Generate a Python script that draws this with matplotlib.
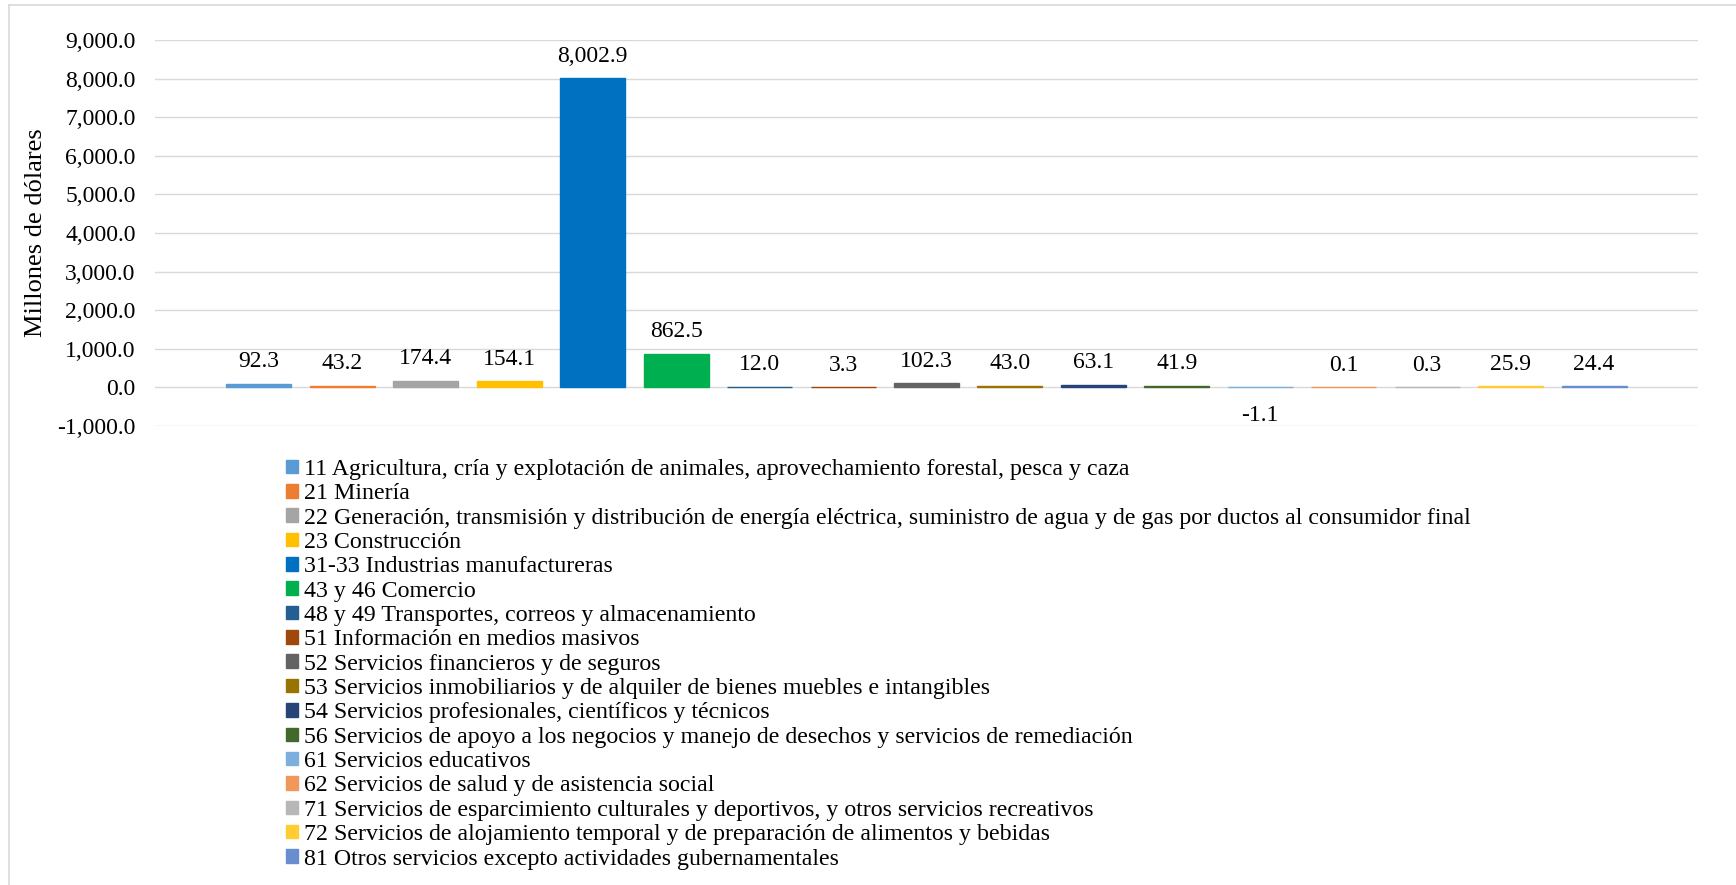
import matplotlib
matplotlib.use("Agg")
import matplotlib.pyplot as plt
from matplotlib.lines import Line2D
from matplotlib.ticker import FuncFormatter

plt.rcParams['font.family'] = ['Liberation Serif', 'DejaVu Serif']

# sectores y valores (millones de dolares)
sectors = [
    "11 Agricultura, cría y explotación de animales, aprovechamiento forestal, pesca y caza",
    "21 Minería",
    "22 Generación, transmisión y distribución de energía eléctrica, suministro de agua y de gas por ductos al consumidor final",
    "23 Construcción",
    "31-33 Industrias manufactureras",
    "43 y 46 Comercio",
    "48 y 49 Transportes, correos y almacenamiento",
    "51 Información en medios masivos",
    "52 Servicios financieros y de seguros",
    "53 Servicios inmobiliarios y de alquiler de bienes muebles e intangibles",
    "54 Servicios profesionales, científicos y técnicos",
    "56 Servicios de apoyo a los negocios y manejo de desechos y servicios de remediación",
    "61 Servicios educativos",
    "62 Servicios de salud y de asistencia social",
    "71 Servicios de esparcimiento culturales y deportivos, y otros servicios recreativos",
    "72 Servicios de alojamiento temporal y de preparación de alimentos y bebidas",
    "81 Otros servicios excepto actividades gubernamentales",
]
values = [92.3, 43.2, 174.4, 154.1, 8002.9, 862.5, 12.0, 3.3, 102.3, 43.0,
          63.1, 41.9, -1.1, 0.1, 0.3, 25.9, 24.4]
colors = ["#5B9BD5", "#ED7D31", "#A5A5A5", "#FFC000", "#0070C0", "#00B050",
          "#255E91", "#9E480E", "#636363", "#997300", "#264478", "#43682B",
          "#7CAFDD", "#F1975A", "#B7B7B7", "#FFCD33", "#698ED0"]
y_ticks = [-1000, 0, 1000, 2000, 3000, 4000, 5000, 6000, 7000, 8000, 9000]

W, H = 1736, 885
fig = plt.figure(figsize=(W / 100, H / 100), dpi=100)
ax = fig.add_axes([155 / W, 1 - 426 / H, (1698 - 155) / W, (426 - 40) / H])

for i, (v, c, s) in enumerate(zip(values, colors, sectors)):
    # el borde del mismo color deja ver las barras muy pequenas como en Excel
    ax.bar(i, v, width=0.78, color=c, edgecolor=c, linewidth=1.0, label=s, zorder=3)
    if v >= 0:
        ax.annotate(f"{v:,.1f}", (i, v), xytext=(0, 12), textcoords='offset points',
                    ha='center', va='baseline', fontsize=17)
    else:
        ax.annotate(f"{v:,.1f}", (i, v), xytext=(0, -24.5), textcoords='offset points',
                    ha='center', va='baseline', fontsize=17)

ax.set_xlim(-1.245, len(values) - 1 + 1.245)
ax.set_ylim(-1000, 9000)
ax.set_yticks(y_ticks)
ax.yaxis.set_major_formatter(FuncFormatter(lambda v, p: f"{v:,.1f}"))
ax.tick_params(axis='y', length=0, pad=14, labelsize=17)
ax.set_xticks([])
for sp in ax.spines.values():
    sp.set_visible(False)
ax.grid(axis='y', color='#D9D9D9', linewidth=1.0, zorder=0)
ax.set_ylabel("Millones de dólares", fontsize=19)
ax.yaxis.set_label_coords((47 - 155) / (1698 - 155), 0.5)

fig.legend(loc='upper left', bbox_to_anchor=(286 / W, 1 - 459 / H), frameon=False,
           fontsize=17.2, handlelength=0.5, handleheight=0.5, handletextpad=0.25,
           labelspacing=0.14, borderpad=0, borderaxespad=0)

# marco del grafico (solo se ven arriba e izquierda)
fig.add_artist(Line2D([9 / W, 9 / W], [0, 1 - 5 / H], color='#D9D9D9', linewidth=1.2))
fig.add_artist(Line2D([9 / W, 1], [1 - 5 / H, 1 - 5 / H], color='#D9D9D9', linewidth=1.2))

fig.savefig("out.png", dpi=100)
